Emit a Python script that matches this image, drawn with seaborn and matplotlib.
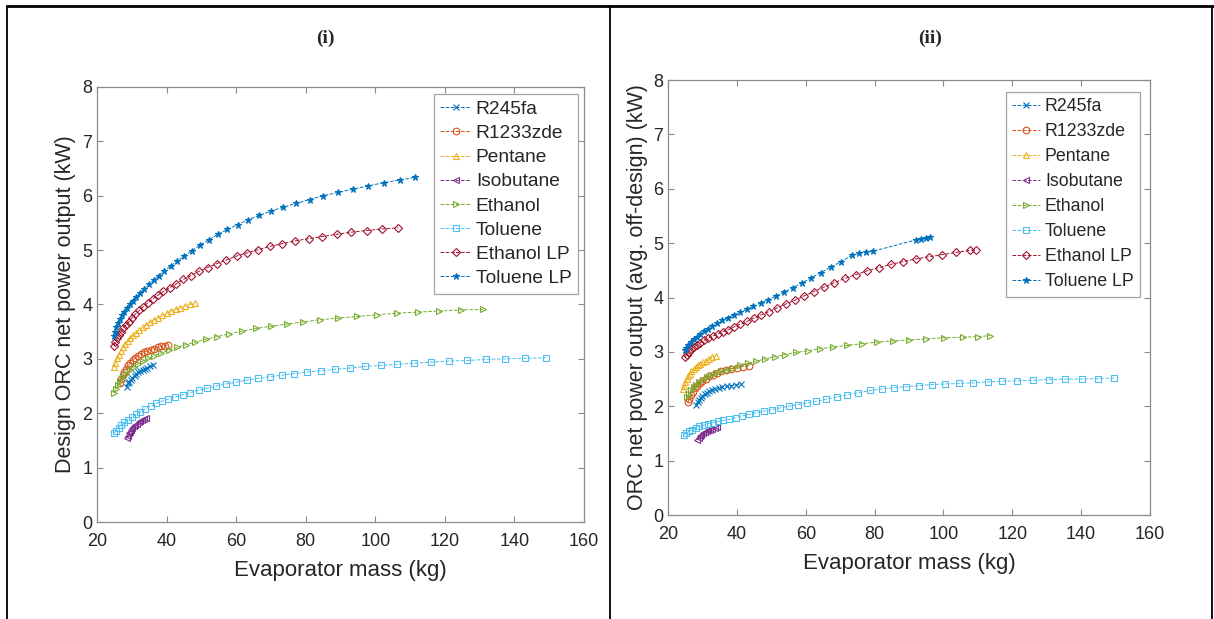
import seaborn as sns
import matplotlib.pyplot as plt
from matplotlib.lines import Line2D

fluids = ['R245fa', 'R1233zde', 'Pentane', 'Isobutane', 'Ethanol', 'Toluene', 'Ethanol LP', 'Toluene LP']
colors = ['#0072BD', '#D95319', '#EDB120', '#7E2F8E', '#77AC30', '#4DBEEE', '#A2142F', '#0072BD']
markers = ['x', 'o', '^', '<', '>', 's', 'D', '*']

# (i) design point: evaporator mass (kg) and net power (kW)
des_r245fa_m = [28.5, 29.0, 29.3, 29.8, 30.2, 30.8, 31.3, 31.9, 32.5, 33.1, 33.8, 34.5, 35.2, 36.0]
des_r245fa_w = [2.48, 2.55, 2.58, 2.62, 2.65, 2.69, 2.72, 2.75, 2.77, 2.80, 2.82, 2.84, 2.86, 2.88]
des_r1233_m = [26.5, 27.0, 27.4, 27.9, 28.4, 29.0, 29.6, 30.3, 31.0, 31.8, 32.6, 33.5, 34.4, 35.4, 36.4, 37.4, 38.5, 39.5, 40.5]
des_r1233_w = [2.55, 2.63, 2.70, 2.76, 2.82, 2.88, 2.93, 2.98, 3.02, 3.06, 3.09, 3.12, 3.15, 3.17, 3.19, 3.21, 3.23, 3.24, 3.26]
des_pent_m = [24.8, 25.2, 25.7, 26.2, 26.8, 27.4, 28.1, 28.8, 29.6, 30.4, 31.3, 32.2, 33.2, 34.2, 35.3, 36.4, 37.6, 38.8, 40.0, 41.3, 42.6, 44.0, 45.4, 46.8, 48.2]
des_pent_w = [2.85, 2.93, 3.01, 3.08, 3.15, 3.21, 3.27, 3.33, 3.38, 3.43, 3.48, 3.53, 3.58, 3.63, 3.68, 3.72, 3.76, 3.80, 3.84, 3.88, 3.91, 3.94, 3.97, 4.00, 4.02]
des_isob_m = [28.5, 28.8, 29.1, 29.4, 29.8, 30.2, 30.6, 31.0, 31.5, 32.0, 32.5, 33.0, 33.6, 34.2]
des_isob_w = [1.54, 1.59, 1.63, 1.66, 1.70, 1.73, 1.76, 1.79, 1.81, 1.84, 1.86, 1.88, 1.90, 1.92]
des_eth_m = [24.9, 25.4, 26.0, 26.7, 27.5, 28.4, 29.4, 30.5, 31.8, 33.2, 34.8, 36.5, 38.5, 40.6, 43.0, 45.5, 48.3, 51.3, 54.5,
             58.0, 61.8, 65.8, 70.0, 74.5, 79.2, 84.2, 89.4, 94.8, 100.4, 106.2, 112.2, 118.4, 124.7, 131.0]
des_eth_w = [2.38, 2.45, 2.52, 2.59, 2.66, 2.73, 2.79, 2.85, 2.91, 2.96, 3.01, 3.06, 3.11, 3.16, 3.21, 3.26, 3.31, 3.36, 3.41,
             3.46, 3.51, 3.56, 3.60, 3.64, 3.68, 3.72, 3.75, 3.78, 3.81, 3.84, 3.86, 3.88, 3.90, 3.91]
des_tol_m = [24.9, 25.5, 26.2, 27.0, 27.9, 28.9, 30.0, 31.2, 32.5, 33.9, 35.4, 37.0, 38.7, 40.5, 42.5, 44.6, 46.8, 49.2, 51.7,
             54.3, 57.1, 60.0, 63.1, 66.3, 69.6, 73.1, 76.7, 80.5, 84.4, 88.4, 92.6, 97.0, 101.5, 106.1, 111.0, 116.0, 121.2,
             126.4, 131.8, 137.4, 143.1, 149.0]
des_tol_w = [1.64, 1.68, 1.73, 1.78, 1.83, 1.88, 1.93, 1.98, 2.03, 2.08, 2.13, 2.18, 2.22, 2.26, 2.30, 2.34, 2.38, 2.42, 2.46,
             2.50, 2.54, 2.57, 2.61, 2.64, 2.67, 2.70, 2.73, 2.76, 2.78, 2.81, 2.83, 2.86, 2.88, 2.90, 2.92, 2.94, 2.96,
             2.97, 2.99, 3.00, 3.01, 3.02]
des_ethlp_m = [24.9, 25.3, 25.8, 26.3, 26.9, 27.6, 28.3, 29.1, 30.0, 31.0, 32.1, 33.3, 34.6, 36.0, 37.5, 39.1, 40.9, 42.8, 44.8,
               47.0, 49.3, 51.8, 54.4, 57.2, 60.1, 63.2, 66.4, 69.8, 73.3, 77.0, 80.8, 84.8, 88.9, 93.1, 97.5, 102.0, 106.6]
des_ethlp_w = [3.24, 3.31, 3.38, 3.44, 3.50, 3.56, 3.62, 3.68, 3.75, 3.82, 3.89, 3.96, 4.03, 4.10, 4.17, 4.24, 4.31, 4.38, 4.46,
               4.53, 4.61, 4.68, 4.75, 4.82, 4.89, 4.95, 5.01, 5.07, 5.12, 5.17, 5.21, 5.25, 5.29, 5.33, 5.36, 5.39, 5.41]
des_tollp_m = [24.8, 25.2, 25.6, 26.1, 26.6, 27.2, 27.9, 28.6, 29.4, 30.3, 31.3, 32.4, 33.6, 34.9, 36.3, 37.8, 39.4, 41.2, 43.1,
               45.1, 47.3, 49.6, 52.1, 54.7, 57.5, 60.4, 63.5, 66.7, 70.1, 73.6, 77.3, 81.1, 85.1, 89.2, 93.5, 97.9, 102.4,
               107.0, 111.5]
des_tollp_w = [3.42, 3.50, 3.58, 3.66, 3.73, 3.80, 3.87, 3.94, 4.00, 4.07, 4.14, 4.21, 4.29, 4.37, 4.45, 4.53, 4.62, 4.71, 4.80,
               4.89, 4.99, 5.09, 5.19, 5.29, 5.38, 5.47, 5.56, 5.64, 5.72, 5.79, 5.86, 5.93, 6.00, 6.06, 6.12, 6.18, 6.24,
               6.29, 6.34]

# (ii) average off-design net power (kW)
off_r245fa_m = [28.2, 28.6, 29.0, 29.5, 30.0, 30.6, 31.3, 32.0, 32.8, 33.7, 34.7, 35.8, 37.0, 38.3, 39.7, 41.2]
off_r245fa_w = [2.03, 2.08, 2.12, 2.16, 2.19, 2.22, 2.25, 2.28, 2.30, 2.32, 2.34, 2.36, 2.37, 2.38, 2.39, 2.41]
off_r1233_m = [25.8, 26.2, 26.7, 27.2, 27.8, 28.5, 29.2, 30.0, 30.9, 31.9, 33.0, 34.2, 35.5, 36.9, 38.4, 40.0, 41.7, 43.5]
off_r1233_w = [2.07, 2.14, 2.21, 2.27, 2.33, 2.38, 2.43, 2.47, 2.51, 2.55, 2.58, 2.61, 2.64, 2.67, 2.69, 2.71, 2.73, 2.74]
off_pent_m = [24.3, 24.6, 25.0, 25.4, 25.8, 26.3, 26.8, 27.4, 28.0, 28.7, 29.4, 30.2, 31.0, 31.9, 32.8, 33.8]
off_pent_w = [2.32, 2.38, 2.44, 2.50, 2.55, 2.60, 2.64, 2.68, 2.72, 2.75, 2.78, 2.81, 2.84, 2.87, 2.90, 2.93]
off_isob_m = [28.5, 28.9, 29.3, 29.7, 30.2, 30.7, 31.2, 31.7, 32.3, 32.9, 33.5, 34.1]
off_isob_w = [1.38, 1.42, 1.45, 1.48, 1.50, 1.52, 1.54, 1.56, 1.57, 1.58, 1.60, 1.61]
off_eth_m = [25.6, 26.1, 26.7, 27.4, 28.2, 29.1, 30.1, 31.2, 32.5, 33.9, 35.4, 37.1, 39.0, 41.0, 43.2, 45.6, 48.2, 51.0, 54.0,
             57.2, 60.6, 64.2, 68.0, 72.0, 76.2, 80.6, 85.2, 90.0, 95.0, 100.2, 105.6, 110.0, 113.5]
off_eth_w = [2.17, 2.23, 2.29, 2.35, 2.40, 2.45, 2.49, 2.53, 2.57, 2.61, 2.64, 2.67, 2.71, 2.75, 2.79, 2.83, 2.87, 2.91, 2.95,
             2.99, 3.02, 3.06, 3.09, 3.12, 3.15, 3.18, 3.20, 3.22, 3.24, 3.26, 3.27, 3.28, 3.30]
off_tol_m = [24.6, 25.3, 26.1, 27.0, 28.0, 29.1, 30.3, 31.6, 33.0, 34.5, 36.1, 37.8, 39.6, 41.5, 43.5, 45.6, 47.8, 50.1, 52.5,
             55.0, 57.6, 60.3, 63.1, 66.0, 69.0, 72.1, 75.3, 78.6, 82.0, 85.5, 89.1, 92.8, 96.6, 100.5, 104.5, 108.6, 112.8,
             117.1, 121.5, 126.0, 130.6, 135.3, 140.1, 145.0, 149.5]
off_tol_w = [1.48, 1.51, 1.54, 1.57, 1.60, 1.63, 1.65, 1.68, 1.70, 1.72, 1.74, 1.76, 1.79, 1.82, 1.85, 1.88, 1.91, 1.94, 1.97,
             2.00, 2.03, 2.06, 2.09, 2.13, 2.17, 2.21, 2.25, 2.29, 2.32, 2.34, 2.36, 2.38, 2.40, 2.41, 2.42, 2.43, 2.45,
             2.46, 2.47, 2.48, 2.49, 2.50, 2.50, 2.51, 2.52]
off_ethlp_m = [24.9, 25.4, 26.0, 26.7, 27.5, 28.4, 29.4, 30.5, 31.7, 33.0, 34.4, 35.9, 37.5, 39.2, 41.0, 42.9, 44.9, 47.0, 49.3,
               51.7, 54.2, 56.8, 59.5, 62.3, 65.2, 68.2, 71.3, 74.5, 77.8, 81.2, 84.7, 88.3, 92.0, 95.8, 99.7, 103.7, 107.8, 109.5]
off_ethlp_w = [2.90, 2.95, 3.00, 3.05, 3.09, 3.13, 3.17, 3.21, 3.25, 3.29, 3.33, 3.37, 3.41, 3.46, 3.51, 3.56, 3.62, 3.68, 3.74,
               3.81, 3.88, 3.95, 4.03, 4.11, 4.19, 4.27, 4.35, 4.42, 4.49, 4.55, 4.61, 4.66, 4.71, 4.75, 4.79, 4.83, 4.87, 4.88]
off_tollp_m = [24.8, 25.3, 25.9, 26.6, 27.4, 28.3, 29.3, 30.4, 31.6, 32.9, 34.3, 35.8, 37.4, 39.1, 40.9, 42.8, 44.8, 46.9, 49.1,
               51.4, 53.8, 56.3, 58.9, 61.6, 64.4, 67.3, 70.3, 73.4, 75.5, 77.5, 79.5, 92.0, 93.5, 95.0, 96.0]
off_tollp_w = [3.03, 3.08, 3.13, 3.18, 3.23, 3.28, 3.33, 3.38, 3.43, 3.48, 3.53, 3.58, 3.63, 3.68, 3.73, 3.78, 3.84, 3.90, 3.96,
               4.03, 4.10, 4.18, 4.27, 4.36, 4.46, 4.56, 4.66, 4.78, 4.81, 4.83, 4.85, 5.06, 5.08, 5.10, 5.11]

design = [(des_r245fa_m, des_r245fa_w), (des_r1233_m, des_r1233_w), (des_pent_m, des_pent_w),
          (des_isob_m, des_isob_w), (des_eth_m, des_eth_w), (des_tol_m, des_tol_w),
          (des_ethlp_m, des_ethlp_w), (des_tollp_m, des_tollp_w)]
offdesign = [(off_r245fa_m, off_r245fa_w), (off_r1233_m, off_r1233_w), (off_pent_m, off_pent_w),
             (off_isob_m, off_isob_w), (off_eth_m, off_eth_w), (off_tol_m, off_tol_w),
             (off_ethlp_m, off_ethlp_w), (off_tollp_m, off_tollp_w)]

sns.set_theme(style='white')
plt.rcParams['font.family'] = ['Liberation Sans', 'DejaVu Sans']

fig = plt.figure(figsize=(12.14, 6.19), dpi=100)
ax1 = fig.add_axes([0.0799, 0.1567, 0.4012, 0.7028])
ax2 = fig.add_axes([0.5503, 0.1680, 0.3970, 0.7027])

axis_grey = '#8c8c8c'
marker_sizes = {'*': 5.0, 'D': 3.8}


def draw_panel(ax, series, ylabel, anchor, leg_size, leg_space):
    for name, c, mk, (m, w) in zip(fluids, colors, markers, series):
        face = c if mk == '*' else 'none'
        sns.lineplot(x=m, y=w, ax=ax, color=c, marker=mk, markersize=marker_sizes.get(mk, 4.8),
                     markerfacecolor=face, markeredgecolor=c, markeredgewidth=0.8,
                     linestyle='--', linewidth=0.7, estimator=None, sort=False, label=name)
    ax.set_xlim(20, 160)
    ax.set_ylim(0, 8)
    ax.set_xticks(range(20, 161, 20))
    ax.set_yticks(range(0, 9))
    ax.tick_params(direction='in', bottom=True, left=True, top=True, right=True, length=4, width=0.8,
                   color=axis_grey, labelcolor='#262626', labelsize=13)
    ax.tick_params(axis='x', pad=8)
    for s in ax.spines.values():
        s.set_color(axis_grey)
        s.set_linewidth(0.9)
    ax.set_xlabel('Evaporator mass (kg)', fontsize=16, color='#262626', labelpad=7)
    ax.set_ylabel(ylabel, fontsize=15.5, color='#262626')
    leg = ax.legend(loc='upper right', bbox_to_anchor=anchor, borderaxespad=0, frameon=True, fancybox=False,
                    edgecolor=axis_grey, fontsize=leg_size, handlelength=1.6, labelspacing=leg_space,
                    borderpad=0.35, handletextpad=0.25)
    leg.get_frame().set_linewidth(0.9)
    for t in leg.get_texts():
        t.set_color('#262626')


draw_panel(ax1, design, 'Design ORC net power output (kW)', (0.988, 0.984), 13.8, 0.35)
draw_panel(ax2, offdesign, 'ORC net power output (avg. off-design) (kW)', (0.979, 0.972), 12.8, 0.45)

fig.text(325 / 1214, 1 - 38 / 619, '(i)', family='Liberation Serif', fontweight='bold', fontsize=14,
         ha='center', va='center')
fig.text(930 / 1214, 1 - 38 / 619, '(ii)', family='Liberation Serif', fontweight='bold', fontsize=14,
         ha='center', va='center')

# table cell borders around the two panels
for xp in [7, 610, 1212]:
    fig.add_artist(Line2D([xp / 1214, xp / 1214], [0, 1 - 6 / 619], transform=fig.transFigure,
                          color='black', linewidth=1.3))
fig.add_artist(Line2D([7 / 1214, 1], [1 - 6 / 619, 1 - 6 / 619], transform=fig.transFigure,
                      color='black', linewidth=2))

fig.savefig('out.png', dpi=100)
